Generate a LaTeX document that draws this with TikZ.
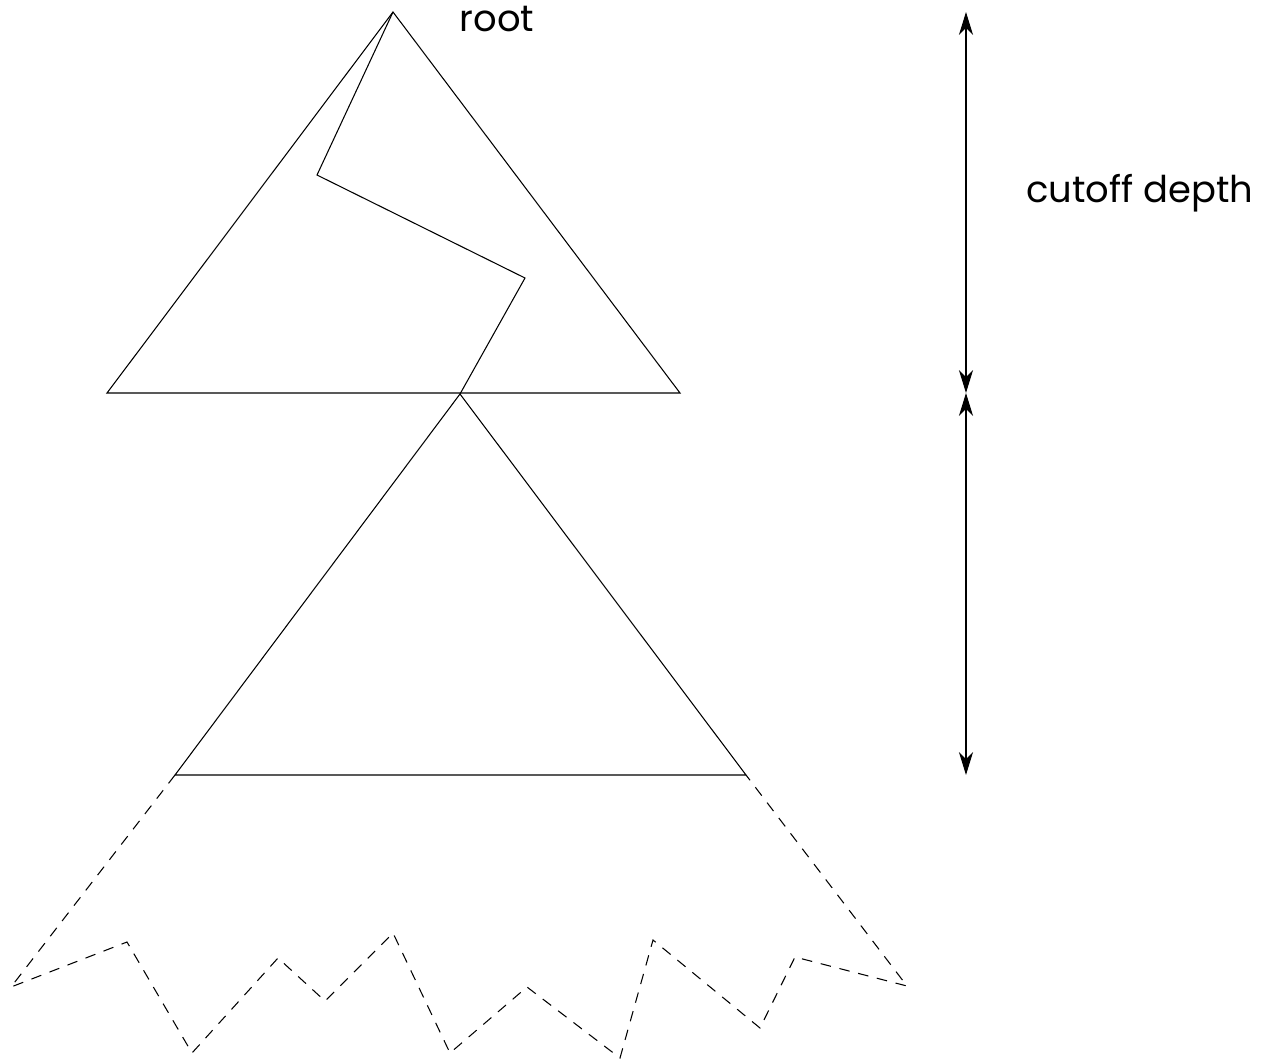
\documentclass[tikz,border=0pt]{standalone}
\usepackage{fontspec}
\setmainfont{Poppins}
\usepackage{tikz}
\usetikzlibrary{arrows.meta,positioning}

\begin{document}
\begin{tikzpicture}[scale=0.2]
                    \tikzstyle{every node}+=[inner sep=0pt, font=\fontsize{21}{25}\selectfont]
                    \tikzstyle{depth arrow}=[black, line width=0.6pt, {Stealth[length=13pt,width=8pt,inset=4pt]}-{Stealth[length=13pt,width=8pt,inset=4pt]}]
                    \useasboundingbox (0,0) rectangle (126.4,-106.3);
                    % upper tree, cut off at the given depth
                    \draw [black, line width=0.6pt] (39.3,-1.2) -- (10.7,-39.3) -- (68,-39.3) -- cycle;
                    \draw [black, line width=0.6pt] (39.3,-1.2) -- (31.7,-17.5) -- (52.5,-27.8) -- (46,-39.4);
                    % subtree below the cutoff
                    \draw [black, line width=0.6pt] (46,-39.4) -- (17.5,-77.5) -- (74.6,-77.5) -- cycle;
                    % rest of the tree
                    \draw [black, line width=0.6pt, dash pattern=on 6pt off 5pt] (17.5,-77.5) -- (1.1,-98.7) -- (12.7,-94.2) -- (19.2,-105.3) -- (27.8,-95.8) -- (32.5,-100.1) -- (39.3,-93.3) -- (45,-105.3) -- (52.7,-98.7) -- (62,-105.8) -- (65.3,-94) -- (76,-102.8) -- (79.5,-95.7) -- (90.7,-98.6) -- (74.6,-77.5);
                    \draw (49.7,-1.9) node {root};
                    % depth markers
                    \coordinate (d0) at (96.6,-1.2);
                    \coordinate (d1) at (96.6,-39.3);
                    \coordinate (d2) at (96.6,-77.5);
                    \draw [depth arrow] (d0) -- (d1);
                    \draw [depth arrow] (d1) -- (d2);
                    \draw (114,-19.3) node {cutoff depth};
                \end{tikzpicture}
\end{document}
